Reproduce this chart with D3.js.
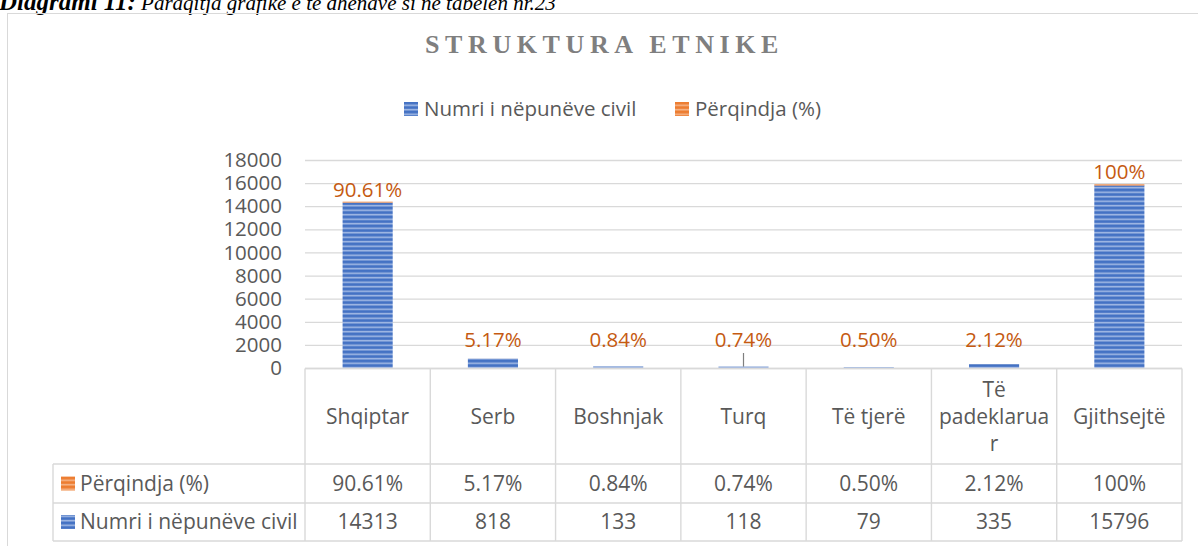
<!DOCTYPE html>
<html>
<head>
<meta charset="utf-8">
<script src="https://cdn.jsdelivr.net/npm/d3@7"></script>
<style>
  body { margin: 0; background: #fff; }
  svg { display: block; }
</style>
</head>
<body>
<div id="chart"></div>
<script>
// data
var categories = ["Shqiptar", "Serb", "Boshnjak", "Turq", "Të tjerë", "Të padeklaruar", "Gjithsejtë"];
var numriValues = [14313, 818, 133, 118, 79, 335, 15796];
var perqindjaValues = [90.61, 5.17, 0.84, 0.74, 0.50, 2.12, 100];
var perqindjaLabels = ["90.61%", "5.17%", "0.84%", "0.74%", "0.50%", "2.12%", "100%"];
var numriLabels = ["14313", "818", "133", "118", "79", "335", "15796"];
var yTicks = [0, 2000, 4000, 6000, 8000, 10000, 12000, 14000, 16000, 18000];
var seriesNames = ["Numri i nëpunëve civil", "Përqindja (%)"];
var leaderCats = ["Turq"];

var W = 1198, H = 546;
var blue = "#4472C4", blueLight = "#a9bfe6";
var orange = "#ED7D31", orangeLight = "#f6b98f";
var textGray = "#595959", gridGray = "#d9d9d9", labelOrange = "#C55A11";
var sans = "'Open Sans', sans-serif";
var serif = "'Liberation Serif', 'DejaVu Serif', serif";

var svg = d3.select("#chart").append("svg")
    .attr("width", W)
    .attr("height", H);

// striped fills
var defs = svg.append("defs");
function stripes(id, dark, light) {
    var p = defs.append("pattern")
        .attr("id", id)
        .attr("patternUnits", "userSpaceOnUse")
        .attr("width", 8).attr("height", 4.5);
    p.append("rect").attr("width", 8).attr("height", 4.5).attr("fill", dark);
    p.append("rect").attr("y", 2.5).attr("width", 8).attr("height", 1.5).attr("fill", light);
}
stripes("stripeBlue", blue, blueLight);
stripes("stripeOrange", orange, orangeLight);

// caption above the chart (cut off at top)
var cap = svg.append("text")
    .attr("x", -1).attr("y", 10)
    .style("font-family", serif)
    .style("font-style", "italic")
    .attr("fill", "#000");
cap.append("tspan").style("font-weight", "bold").style("font-size", "25px").text("Diagrami 11:");
cap.append("tspan").style("font-size", "21px").text(" Paraqitja grafike e të dhënave si në tabelën nr.23");

// chart frame
svg.append("rect")
    .attr("x", 7.5).attr("y", 13.5)
    .attr("width", W + 20).attr("height", H)
    .attr("fill", "none")
    .attr("stroke", gridGray);

// title
svg.append("text")
    .attr("x", 425).attr("y", 53)
    .style("font-family", serif)
    .style("font-size", "26px")
    .style("font-weight", "bold")
    .style("letter-spacing", "5.6px")
    .attr("fill", "#7f7f7f")
    .text("STRUKTURA ETNIKE");

// legend
var legend = svg.append("g").attr("transform", "translate(404,102)");
var legendItems = [
    { name: seriesNames[0], fill: "url(#stripeBlue)", x: 0 },
    { name: seriesNames[1], fill: "url(#stripeOrange)", x: 271 }
];
legendItems.forEach(function (d) {
    legend.append("rect").attr("x", d.x).attr("y", 0).attr("width", 14).attr("height", 14).attr("fill", d.fill);
    legend.append("text")
        .attr("x", d.x + 20).attr("y", 7)
        .attr("dy", "0.35em")
        .style("font-family", sans).style("font-size", "20.5px")
        .attr("fill", textGray)
        .text(d.name);
});

// scales
var plotLeft = 305, plotRight = 1182, yTop = 160, yBase = 368;
var xCol = d3.scaleBand().domain(categories).range([plotLeft, plotRight]);
var xBar = d3.scaleBand().domain(categories).range([plotLeft, plotRight])
    .paddingInner(0.6).paddingOuter(0.3);
var y = d3.scaleLinear().domain([0, 18000]).range([yBase, yTop]);

// gridlines
svg.append("g")
    .attr("transform", "translate(" + plotLeft + ",0)")
    .call(d3.axisLeft(y).tickValues(yTicks).tickSize(-(plotRight - plotLeft)).tickFormat(""))
    .call(function (g) { g.select(".domain").remove(); })
    .selectAll("line").attr("stroke", gridGray).attr("stroke-width", 1.3);

// y axis labels
svg.append("g")
    .attr("transform", "translate(" + plotLeft + ",0)")
    .call(d3.axisLeft(y).tickValues(yTicks).tickSize(0).tickPadding(23).tickFormat(d3.format("d")))
    .call(function (g) { g.select(".domain").remove(); })
    .selectAll("text")
    .style("font-family", sans).style("font-size", "20.5px")
    .attr("fill", textGray);

// stacked bars
var rows = categories.map(function (c, i) {
    return { cat: c, numri: numriValues[i], perqindja: perqindjaValues[i], label: perqindjaLabels[i] };
});
var stack = d3.stack().keys(["numri", "perqindja"]);
var layers = stack(rows);
var fills = { numri: "url(#stripeBlue)", perqindja: "url(#stripeOrange)" };

svg.append("g").selectAll("g")
    .data(layers)
    .enter().append("g")
    .attr("fill", function (l) { return fills[l.key]; })
    .selectAll("rect")
    .data(function (l) { return l; })
    .enter().append("rect")
    .attr("x", function (d) { return xBar(d.data.cat); })
    .attr("width", xBar.bandwidth())
    .attr("y", function (d) { return y(d[1]); })
    .attr("height", function (d) { return Math.max(0, y(d[0]) - y(d[1])); });

// data labels (percent series)
function labelY(d) {
    return Math.min(y(d.numri + d.perqindja) - 5, yBase - 21);
}
svg.append("g").selectAll("text")
    .data(rows)
    .enter().append("text")
    .attr("x", function (d) { return xBar(d.cat) + xBar.bandwidth() / 2; })
    .attr("y", labelY)
    .attr("text-anchor", "middle")
    .style("font-family", sans).style("font-size", "20.5px")
    .attr("fill", labelOrange)
    .text(function (d) { return d.label; });

// leader line under moved label
svg.append("g").selectAll("line")
    .data(rows.filter(function (d) { return leaderCats.indexOf(d.cat) >= 0; }))
    .enter().append("line")
    .attr("x1", function (d) { return xBar(d.cat) + xBar.bandwidth() / 2; })
    .attr("x2", function (d) { return xBar(d.cat) + xBar.bandwidth() / 2; })
    .attr("y1", function (d) { return labelY(d) + 6; })
    .attr("y2", function (d) { return y(d.numri + d.perqindja); })
    .attr("stroke", "#7f7f7f").attr("stroke-width", 1.2);

// data table
var tableLeft = 53, headTop = yBase + 0.5, row1 = 464, row2 = 503, row3 = 541;
var table = svg.append("g")
    .attr("stroke", gridGray).attr("stroke-width", 1.4);
table.append("line").attr("x1", plotLeft).attr("x2", plotRight).attr("y1", headTop).attr("y2", headTop);
[row1, row2, row3].forEach(function (ry) {
    table.append("line").attr("x1", tableLeft).attr("x2", plotRight).attr("y1", ry).attr("y2", ry);
});
table.append("line").attr("x1", tableLeft).attr("x2", tableLeft).attr("y1", row1).attr("y2", row3);
categories.concat([null]).forEach(function (c) {
    var xx = c === null ? plotRight : xCol(c);
    table.append("line").attr("x1", xx).attr("x2", xx).attr("y1", headTop).attr("y2", row3);
});

// header labels with wrapping
var maxW = xCol.bandwidth() - 10;
var header = svg.append("g")
    .style("font-family", sans).style("font-size", "21px")
    .attr("fill", textGray)
    .attr("text-anchor", "middle");
var measure = header.append("text").attr("x", -999).attr("y", -999);
function textW(s) { measure.text(s); return measure.node().getComputedTextLength(); }
function wrap(label) {
    var lines = [], cur = "";
    label.split(" ").forEach(function (w) {
        var tryLine = cur ? cur + " " + w : w;
        if (textW(tryLine) <= maxW) { cur = tryLine; return; }
        if (cur) lines.push(cur);
        cur = "";
        // break long words by characters
        var part = "";
        w.split("").forEach(function (ch) {
            if (textW(part + ch) > maxW) { lines.push(part); part = ch; }
            else part += ch;
        });
        cur = part;
    });
    if (cur) lines.push(cur);
    return lines;
}
categories.forEach(function (c) {
    var lines = wrap(c);
    var cy = (headTop + row1) / 2;
    var lh = 27;
    lines.forEach(function (ln, k) {
        header.append("text")
            .attr("x", xCol(c) + xCol.bandwidth() / 2)
            .attr("y", cy + (k - (lines.length - 1) / 2) * lh)
            .attr("dy", "0.35em")
            .text(ln);
    });
});
measure.remove();

// table rows: percent first, then count
var tableRows = [
    { name: seriesNames[1], fill: "url(#stripeOrange)", vals: perqindjaLabels, top: row1, bottom: row2 },
    { name: seriesNames[0], fill: "url(#stripeBlue)", vals: numriLabels, top: row2, bottom: row3 }
];
tableRows.forEach(function (r) {
    var cy = (r.top + r.bottom) / 2;
    svg.append("rect")
        .attr("x", tableLeft + 8).attr("y", cy - 7)
        .attr("width", 14).attr("height", 14)
        .attr("fill", r.fill);
    svg.append("text")
        .attr("x", tableLeft + 27).attr("y", cy)
        .attr("dy", "0.35em")
        .style("font-family", sans).style("font-size", "21px")
        .attr("fill", textGray)
        .text(r.name);
    svg.append("g").selectAll("text")
        .data(r.vals)
        .enter().append("text")
        .attr("x", function (v, i) { return xCol(categories[i]) + xCol.bandwidth() / 2; })
        .attr("y", cy)
        .attr("dy", "0.35em")
        .attr("text-anchor", "middle")
        .style("font-family", sans).style("font-size", "21px")
        .attr("fill", textGray)
        .text(function (v) { return v; });
});
</script>
</body>
</html>
